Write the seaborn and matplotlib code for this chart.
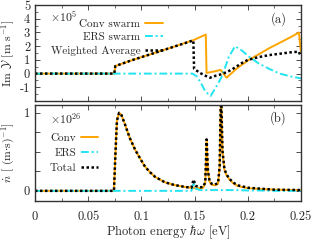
import numpy as np
import pandas as pd
import seaborn as sns
import matplotlib
matplotlib.use('Agg')
import matplotlib.pyplot as plt
from matplotlib.ticker import MultipleLocator, FixedLocator, FixedFormatter

# panel (a): Im Y, units of 1e5 m/s
conv_a_x = [0, 0.0745, 0.0755, 0.09, 0.11, 0.13, 0.149, 0.1605, 0.1612, 0.168,
            0.1745, 0.180, 0.185, 0.19, 0.20, 0.21, 0.22, 0.23, 0.24, 0.248,
            0.2495, 0.25]
conv_a_y = [0, 0, 0.55, 0.95, 1.45, 1.95, 2.45, 2.85, 0.05, 0.15,
            0.27, -0.3, 0.05, 0.4, 0.95, 1.4, 1.85, 2.25, 2.65, 3.0,
            1.8, 1.6]

ers_a_x = [0, 0.14, 0.148, 0.152, 0.156, 0.16, 0.165, 0.170, 0.175, 0.178,
           0.182, 0.188, 0.195, 0.20, 0.21, 0.22, 0.23, 0.24, 0.25]
ers_a_y = [0, 0, 0.0, -0.2, -0.7, -1.3, -1.63, -1.0, -0.3, 0.3,
           1.2, 2.0, 1.65, 1.3, 0.75, 0.35, 0.0, -0.2, -0.35]

wavg_a_x = [0, 0.0745, 0.0755, 0.09, 0.11, 0.13, 0.1488, 0.1495, 0.155, 0.160,
            0.1645, 0.170, 0.175, 0.18, 0.185, 0.19, 0.195, 0.20, 0.21, 0.22,
            0.23, 0.24, 0.248, 0.2495, 0.25]
wavg_a_y = [0, 0, 0.55, 0.95, 1.45, 1.95, 2.42, 0.35, 0.05, -0.15,
            -0.3, -0.15, -0.05, 0.1, 0.3, 0.55, 0.8, 1.0, 1.2, 1.35,
            1.45, 1.55, 1.6, 1.3, 1.25]

# panel (b): n-dot, units of 1e26 (m s)^-1
nb_x = [0, 0.0742, 0.0755, 0.077, 0.079, 0.081, 0.0846, 0.089, 0.094, 0.099,
        0.1034, 0.108, 0.1128, 0.122, 0.131, 0.141, 0.147, 0.149, 0.151, 0.155,
        0.158, 0.160, 0.1613, 0.1625, 0.164, 0.166, 0.169, 0.172, 0.1735, 0.1748,
        0.1762, 0.178, 0.180, 0.183, 0.187, 0.191, 0.2, 0.21, 0.225, 0.25]
conv_b = [0, 0, 0.45, 0.9, 1.0, 0.98, 0.85, 0.68, 0.53, 0.41,
          0.31, 0.24, 0.18, 0.11, 0.075, 0.05, 0.04, 0.035, 0.035, 0.035,
          0.04, 0.1, 0.65, 0.25, 0.12, 0.08, 0.07, 0.09, 0.3, 1.3,
          0.5, 0.27, 0.2, 0.14, 0.09, 0.06, 0.035, 0.025, 0.015, 0.01]
ers_b = [0, 0, 0, 0, 0, 0, 0, 0, 0, 0,
         0, 0, 0, 0, 0, 0, 0.0, 0.11, 0.03, 0.01,
         0.01, 0.01, 0.01, 0.01, 0.01, 0.01, 0.01, 0.01, 0.01, 0.01,
         0.01, 0.01, 0.01, 0.01, 0.01, 0.01, 0.005, 0.005, 0.0, 0.0]
total_b = [0, 0, 0.45, 0.9, 1.0, 0.98, 0.85, 0.68, 0.53, 0.41,
           0.31, 0.24, 0.18, 0.11, 0.075, 0.05, 0.04, 0.145, 0.065, 0.045,
           0.05, 0.11, 0.66, 0.26, 0.13, 0.09, 0.08, 0.1, 0.31, 1.31,
           0.51, 0.28, 0.21, 0.15, 0.1, 0.07, 0.04, 0.03, 0.015, 0.01]

x_ticks = [0, 0.05, 0.1, 0.15, 0.2, 0.25]
x_ticklabels = ['0', '0.05', '0.1', '0.15', '0.2', '0.25']

ORANGE = '#ffa500'
CYAN = '#22e4f0'

sns.set_theme(style='ticks')
plt.rcParams['font.family'] = ['cmr10', 'DejaVu Serif']
plt.rcParams['mathtext.fontset'] = 'cm'
plt.rcParams['axes.formatter.use_mathtext'] = True
plt.rcParams['axes.unicode_minus'] = False
plt.rcParams['font.size'] = 9

fig = plt.figure(figsize=(3.11, 2.42), dpi=100)
ax1 = fig.add_axes([0.1125, 0.5826, 0.8555, 0.3964])
ax2 = fig.add_axes([0.1125, 0.1694, 0.8555, 0.3966])

def style_axis(ax):
    ax.set_xlim(0, 0.25)
    ax.xaxis.set_major_locator(FixedLocator(x_ticks))
    ax.xaxis.set_minor_locator(FixedLocator([0.025, 0.075, 0.125, 0.175, 0.225]))
    ax.tick_params(which='both', direction='in', top=True, right=True,
                   labelsize=9, color='#333333')
    ax.tick_params(which='major', length=3.5, width=0.6)
    ax.tick_params(which='minor', length=2, width=0.5)
    ax.tick_params(axis='x', which='major', pad=7)
    for s in ax.spines.values():
        s.set_linewidth(1.0)
        s.set_color('#333333')
    ax.set_xlabel('')

def right_align_legend(leg):
    for col in leg._legend_handle_box.get_children():
        col.align = 'right'

# ---- panel (a)
sns.lineplot(x=conv_a_x, y=conv_a_y, ax=ax1, color=ORANGE, lw=1.4,
             estimator=None, sort=False, label='Conv swarm')
sns.lineplot(x=ers_a_x, y=ers_a_y, ax=ax1, color=CYAN, lw=1.4,
             estimator=None, sort=False, label='ERS swarm')
ax1.lines[-1].set_dashes([4, 1.5, 1, 1.5])
sns.lineplot(x=wavg_a_x, y=wavg_a_y, ax=ax1, color='black', lw=1.8,
             estimator=None, sort=False, label='Weighted Average')
ax1.lines[-1].set_dashes([1, 1])
style_axis(ax1)
ax1.set_ylim(-2, 5)
ax1.yaxis.set_major_locator(FixedLocator([-2, -1, 0, 1, 2, 3, 4, 5]))
ax1.yaxis.set_major_formatter(FixedFormatter(['', '-1', '0', '1', '2', '3', '4', '5']))
ax1.yaxis.set_minor_locator(MultipleLocator(0.5))
ax1.set_xticklabels([])
ax1.set_ylabel(r'Im $\mathcal{Y}$ [m s$^{-1}$]', fontsize=8.5)
ax1.text(0.058, 0.955, r'$\times10^5$', transform=ax1.transAxes, fontsize=8.5,
         ha='left', va='top')
ax1.text(0.945, 0.93, '(a)', transform=ax1.transAxes, fontsize=9,
         ha='right', va='top')
leg1 = ax1.legend(loc='upper right', bbox_to_anchor=(0.48, 0.85), frameon=False,
                  markerfirst=False, fontsize=8, handlelength=1.6,
                  handletextpad=0.4, labelspacing=0.3, borderaxespad=0,
                  borderpad=0)
right_align_legend(leg1)

# ---- panel (b)
sns.lineplot(x=nb_x, y=conv_b, ax=ax2, color=ORANGE, lw=1.4,
             estimator=None, sort=False, label='Conv')
sns.lineplot(x=nb_x, y=ers_b, ax=ax2, color=CYAN, lw=1.4,
             estimator=None, sort=False, label='ERS')
ax2.lines[-1].set_dashes([4, 1.5, 1, 1.5])
sns.lineplot(x=nb_x, y=total_b, ax=ax2, color='black', lw=1.8,
             estimator=None, sort=False, label='Total')
ax2.lines[-1].set_dashes([1, 1])
style_axis(ax2)
ax2.set_ylim(-0.13, 1.1)
ax2.yaxis.set_major_locator(FixedLocator([0, 0.25, 0.5, 0.75, 1]))
ax2.yaxis.set_major_formatter(FixedFormatter(['0', '', '', '', '1']))
ax2.yaxis.set_minor_locator(FixedLocator([]))
ax2.xaxis.set_major_formatter(FixedFormatter(x_ticklabels))
ax2.set_ylabel(r'$\dot{n}$ [ (m$\cdot$s)$^{-1}$]', fontsize=8.5)
ax2.set_xlabel(r'Photon energy $\hbar\omega$ [eV]', fontsize=9, labelpad=0.5)
ax2.text(0.058, 0.94, r'$\times10^{26}$', transform=ax2.transAxes, fontsize=8.5,
         ha='left', va='top')
ax2.text(0.945, 0.93, '(b)', transform=ax2.transAxes, fontsize=9,
         ha='right', va='top')
leg2 = ax2.legend(loc='upper right', bbox_to_anchor=(0.235, 0.71), frameon=False,
                  markerfirst=False, fontsize=8, handlelength=1.5,
                  handletextpad=0.4, labelspacing=0.5, borderaxespad=0,
                  borderpad=0)
right_align_legend(leg2)

ax1.yaxis.set_label_coords(-0.068, 0.5)
ax2.yaxis.set_label_coords(-0.068, 0.5)

fig.savefig('out.png', dpi=100)
